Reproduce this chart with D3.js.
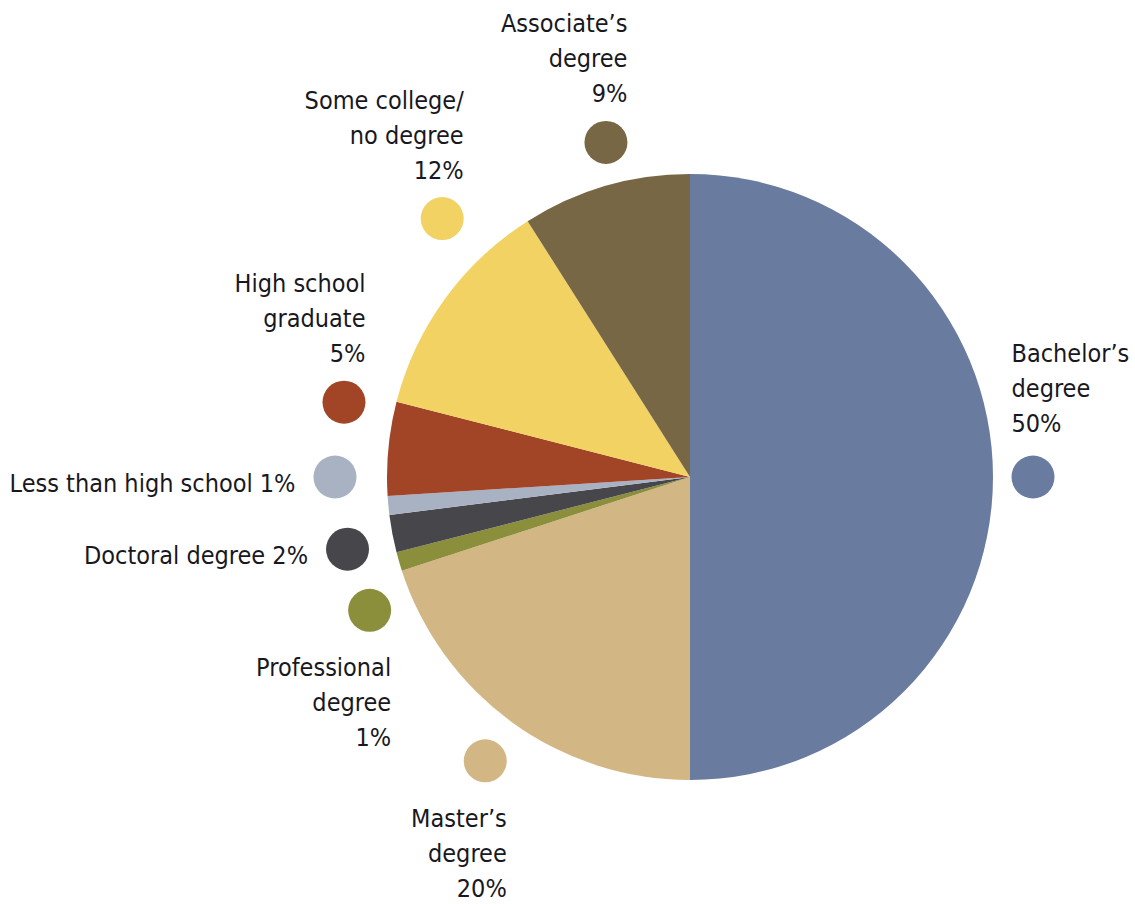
<!DOCTYPE html>
<html>
<head>
<meta charset="utf-8">
<script src="https://cdn.jsdelivr.net/npm/d3@7"></script>
<style>
  body { margin: 0; background: #fff; }
  text { font-family: "Liberation Sans Narrow", "DejaVu Sans Condensed", "Roboto Condensed", sans-serif; }
</style>
</head>
<body>
<div id="chart"></div>
<script>
// data, clockwise from 12 o'clock
var categories = ["Bachelor\u2019s degree", "Master\u2019s degree", "Professional degree", "Doctoral degree",
                  "Less than high school", "High school graduate", "Some college/ no degree", "Associate\u2019s degree"];
var shares = [50, 20, 1, 2, 1, 5, 12, 9];
var labelLines = [
  ["Bachelor\u2019s", "degree", "50%"],
  ["Master\u2019s", "degree", "20%"],
  ["Professional", "degree", "1%"],
  ["Doctoral degree 2%"],
  ["Less than high school 1%"],
  ["High school", "graduate", "5%"],
  ["Some college/", "no degree", "12%"],
  ["Associate\u2019s", "degree", "9%"]
];
var colors = ["#6a7ba0", "#d2b784", "#8b8f3b", "#47474b", "#a9b2c3", "#a14526", "#f2d263", "#776745"];

// label layout: dot nudge in degrees off the slice middle, dot distance from centre, text placement
var dotNudge = [0, -0.2, -6.4, -1.1, 5.4, 6.8, 10.2, 2.1];
var dotDist = [343, 350, 347, 350, 355, 354, 358, 345];
var labelMode = ["above-start", "below", "below", "left", "left", "above", "above", "above"];

var width = 1135, height = 904,
    cx = 690, cy = 477,
    radius = 303,
    dotR = 21.5,
    lineH = 35;

var svg = d3.select("#chart").append("svg")
    .attr("width", width)
    .attr("height", height);

var data = categories.map(function(c, i) {
  return { name: c, value: shares[i], color: colors[i], lines: labelLines[i],
           nudge: dotNudge[i], dist: dotDist[i], mode: labelMode[i] };
});

var pie = d3.pie().sort(null).value(function(d) { return d.value; });
var arc = d3.arc().innerRadius(0).outerRadius(radius);

var g = svg.append("g").attr("transform", "translate(" + cx + "," + cy + ")");

var arcs = pie(data);

g.selectAll("path.slice")
  .data(arcs)
  .enter()
  .append("path")
  .attr("class", "slice")
  .attr("d", arc)
  .attr("fill", function(d) { return d.data.color; });

// dots
arcs.forEach(function(d) {
  var a = (d.startAngle + d.endAngle) / 2 + d.data.nudge * Math.PI / 180;
  d.dx = Math.sin(a) * d.data.dist;
  d.dy = -Math.cos(a) * d.data.dist;
});

g.selectAll("circle.dot")
  .data(arcs)
  .enter()
  .append("circle")
  .attr("class", "dot")
  .attr("cx", function(d) { return d.dx; })
  .attr("cy", function(d) { return d.dy; })
  .attr("r", dotR)
  .attr("fill", function(d) { return d.data.color; });

// labels
var labels = g.selectAll("text.lbl")
  .data(arcs)
  .enter()
  .append("text")
  .attr("class", "lbl")
  .attr("font-size", "25px")
  .attr("fill", "#18181e")
  .attr("text-anchor", function(d) { return d.data.mode == "above-start" ? "start" : "end"; });

labels.each(function(d) {
  var t = d3.select(this);
  var n = d.data.lines.length;
  var x, y0;
  if (d.data.mode == "above-start") {
    x = d.dx - dotR;
    y0 = d.dy - 45 - (n - 1) * lineH;
  } else if (d.data.mode == "above") {
    x = d.dx + dotR;
    y0 = d.dy - 40 - (n - 1) * lineH;
  } else if (d.data.mode == "below") {
    x = d.dx + dotR;
    y0 = d.dy + 66;
  } else {
    x = d.dx - dotR - 18;
    y0 = d.dy + 15;
  }
  d.data.lines.forEach(function(s, i) {
    t.append("tspan").attr("x", x).attr("y", y0 + i * lineH).text(s);
  });
});
</script>
</body>
</html>
